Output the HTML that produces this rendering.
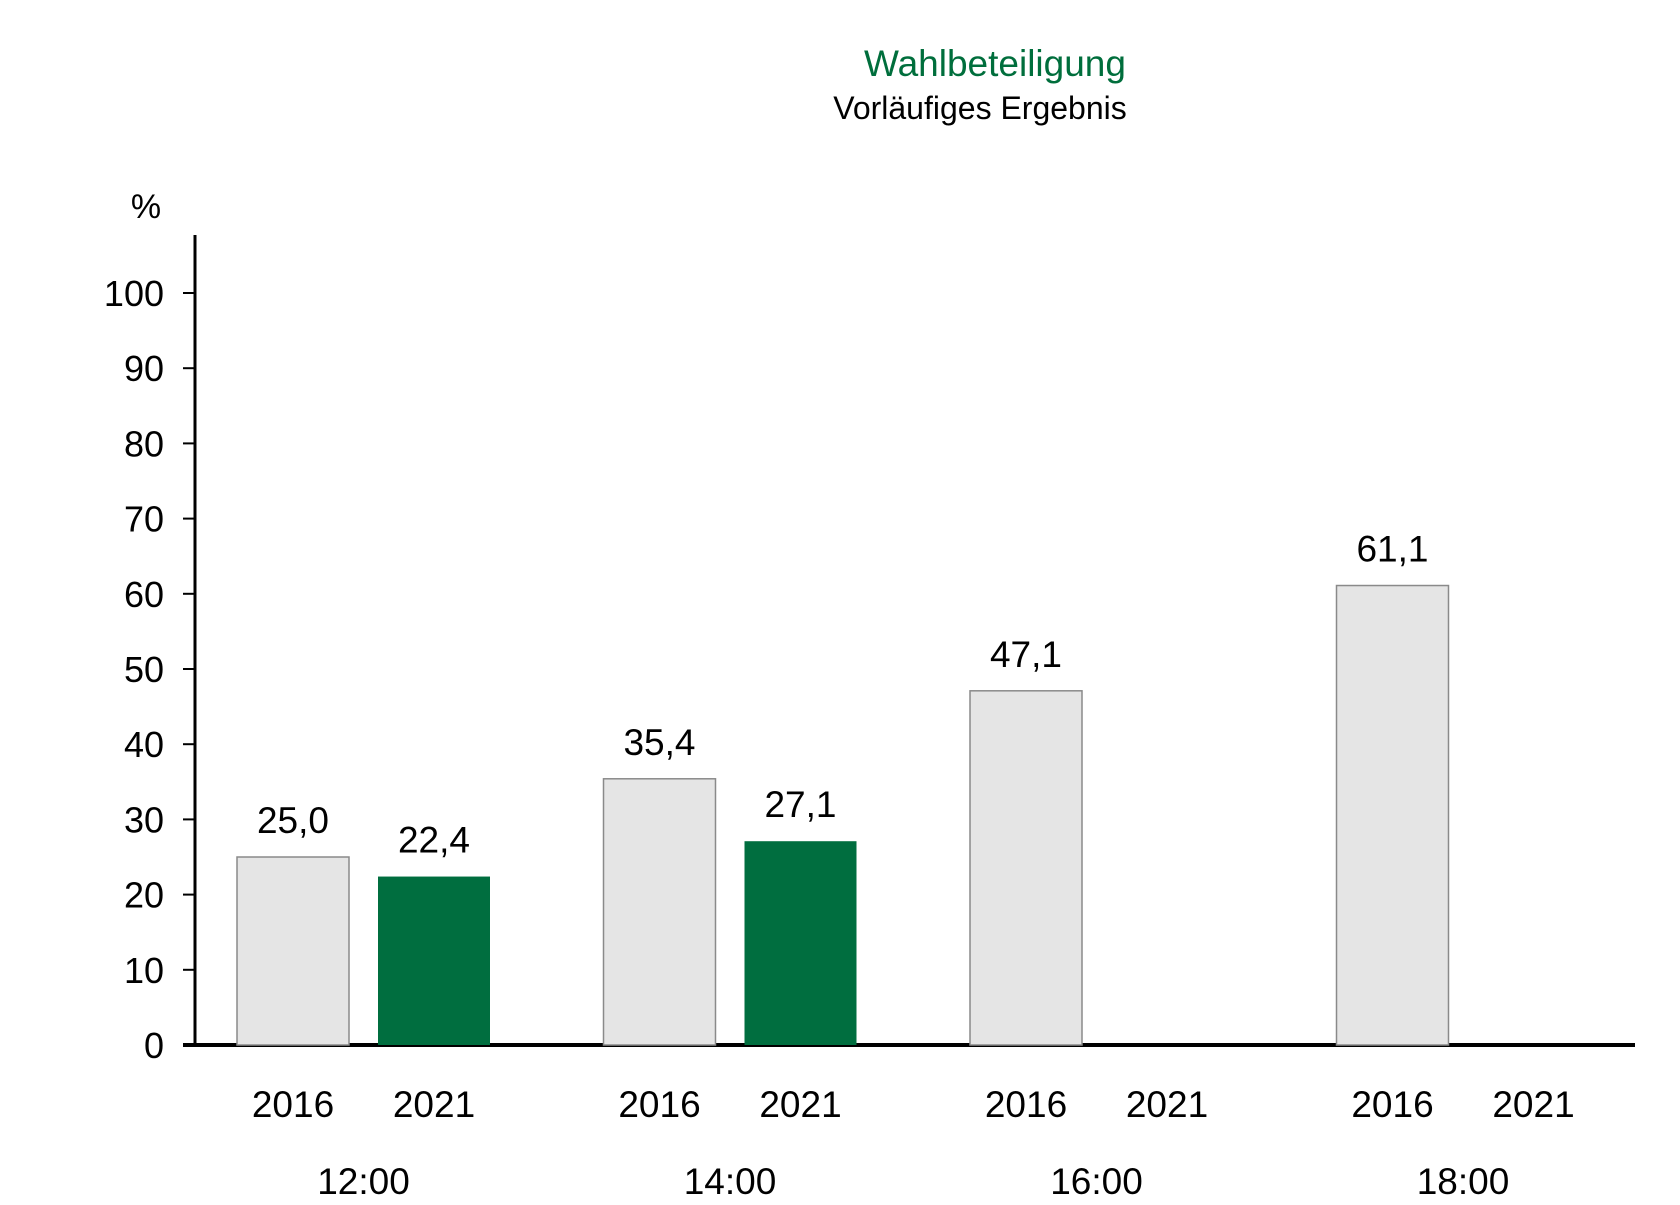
<!DOCTYPE html>
<html><head><meta charset="utf-8"><style>
body{margin:0;background:#fff;width:1680px;height:1200px;overflow:hidden}
svg text{font-family:"Liberation Sans",Arial,sans-serif}
</style></head><body>
<svg id="chart" width="1680" height="1200" viewBox="0 0 1680 1200" xmlns="http://www.w3.org/2000/svg">
<text x="995" y="76" text-anchor="middle" font-size="37" fill="#006e3c">Wahlbeteiligung</text>
<text x="980" y="119" text-anchor="middle" font-size="32" fill="#000">Vorläufiges Ergebnis</text>
<text x="146" y="218" text-anchor="middle" font-size="34" fill="#000">%</text>
<g id="axes"></g>
<g id="bars"></g>
</svg>
<script>
const times = ["12:00","14:00","16:00","18:00"];
const years = ["2016","2021"];
const values2016 = [25.0, 35.4, 47.1, 61.1];
const values2021 = [22.4, 27.1, null, null];
const yTicks = [0,10,20,30,40,50,60,70,80,90,100];

const NS="http://www.w3.org/2000/svg";
const baseY=1045, unit=7.52, axisX=195;
const groupStart=237, groupStep=366.5, barW=112, barGap=141;
function y(v){return baseY - v*unit;}
function gx(i,s){return groupStart + i*groupStep + s*barGap;}
function mk(tag,attrs,parent){const e=document.createElementNS(NS,tag);for(const k in attrs)e.setAttribute(k,attrs[k]);parent.appendChild(e);return e;}
const axes=document.getElementById('axes'), bars=document.getElementById('bars');
function fmt(v){return v.toFixed(1).replace('.',',');}

yTicks.forEach(t=>{
  const l=mk('line',{x1:axisX-12,x2:axisX,y1:y(t),y2:y(t),stroke:'#000','stroke-width':2},axes);
  
  
  const tx=mk('text',{x:164,y:y(t)+13,'text-anchor':'end','font-size':36,fill:'#000'},axes);
  tx.textContent=t;
  
  
});

times.forEach((tm,i)=>{
  [values2016[i],values2021[i]].forEach((v,s)=>{
    const x=gx(i,s);
    if(v!==null){
      const r=mk('rect',{x:x,y:y(v),width:barW,height:v*unit,fill:s===0?'#e5e5e5':'#006e3f',stroke:s===0?'#8a8a8a':'none','stroke-width':1.5},bars);
      
      
      const lb=mk('text',{x:x+barW/2,y:y(v)-24,'text-anchor':'middle','font-size':37,fill:'#000'},bars);
      lb.textContent=fmt(v);
      
      
    }
    const yl=mk('text',{x:x+barW/2,y:1117,'text-anchor':'middle','font-size':37,fill:'#000'},bars);
    yl.textContent=years[s];
    
    
  });
  const tl=mk('text',{x:gx(i,0)+(barGap+barW)/2,y:1194,'text-anchor':'middle','font-size':37,fill:'#000'},bars);
  tl.textContent=tm;
  
  
});

const ya=mk('line',{x1:axisX,x2:axisX,y1:235,y2:baseY+2,stroke:'#000','stroke-width':3},axes);


const xa=mk('line',{x1:axisX-12,x2:1635,y1:baseY,y2:baseY,stroke:'#000','stroke-width':4},axes);


</script>
</body></html>
